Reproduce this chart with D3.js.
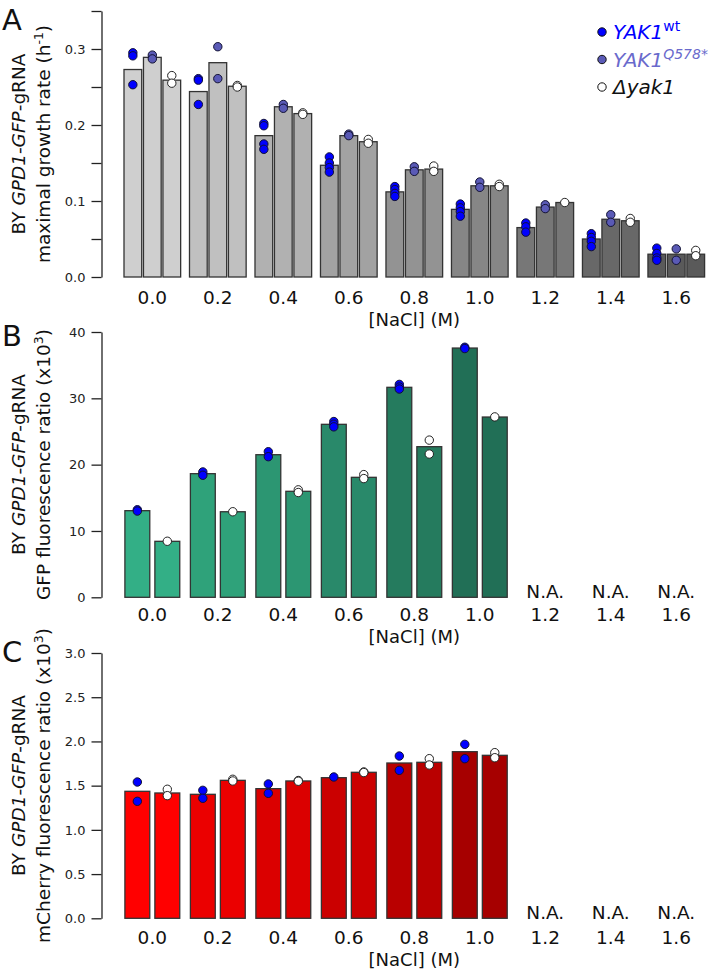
<!DOCTYPE html>
<html><head><meta charset="utf-8">
<script src="https://cdn.jsdelivr.net/npm/d3@7/dist/d3.min.js"></script>
<style>
body{margin:0;background:#fff;}
svg{display:block;font-family:"DejaVu Sans",sans-serif;}
</style></head>
<body>
<svg id="chart" width="712" height="977"></svg>
<script>
// ---------- data ----------
const nacl = ["0.0","0.2","0.4","0.6","0.8","1.0","1.2","1.4","1.6"];
const naclMeasured = ["0.0","0.2","0.4","0.6","0.8","1.0"];
const naclMissing = ["1.2","1.4","1.6"];
const strainsA = ["wt","q578","del"];
const strainsBC = ["wt","del"];

// Panel A: maximal growth rate (h^-1)
const growthWt  = [0.273,0.244,0.186,0.147,0.112,0.089,0.065,0.050,0.030];
const growthQ   = [0.289,0.282,0.224,0.186,0.141,0.120,0.092,0.076,0.030];
const growthDel = [0.259,0.251,0.215,0.178,0.142,0.120,0.098,0.074,0.030];
const growthWtPts  = [[0.295,0.291,0.253],[0.261,0.259,0.227],[0.202,0.199,0.175,0.168],[0.158,0.150,0.144,0.138],[0.119,0.115,0.110,0.106],[0.096,0.091,0.086,0.080],[0.071,0.066,0.059],[0.057,0.052,0.047,0.040],[0.038,0.031,0.025,0.022]];
const growthQPts   = [[0.292,0.287],[0.303,0.261],[0.227,0.222],[0.188,0.186],[0.145,0.139],[0.125,0.118],[0.095,0.090],[0.082,0.072],[0.037,0.022]];
const growthDelPts = [[0.265,0.255],[0.252,0.250],[0.216,0.214],[0.181,0.176],[0.146,0.139],[0.122,0.119],[0.098],[0.077,0.072],[0.035,0.028]];

// Panel B: GFP fluorescence ratio (x10^3)
const gfpWt  = [13.06,18.64,21.5,26.08,31.66,37.58];
const gfpDel = [8.44,12.9,15.98,18.09,22.71,27.18];
const gfpWtPts  = [[13.2,13.0],[18.9,18.4],[21.95,21.2],[26.5,26.1,25.7],[32.1,31.7,31.4],[37.7,37.5]];
const gfpDelPts = [[8.45],[12.9],[16.2,15.8],[18.5,17.9],[23.7,21.6],[27.2]];

// Panel C: mCherry fluorescence ratio (x10^3)
const mchWt  = [1.436,1.402,1.466,1.59,1.756,1.884];
const mchDel = [1.417,1.56,1.553,1.651,1.764,1.843];
const mchWtPts  = [[1.541,1.323],[1.447,1.357],[1.519,1.413],[1.598],[1.835,1.673],[1.967,1.805]];
const mchDelPts = [[1.459,1.387],[1.572,1.553],[1.558,1.550],[1.655,1.648],[1.805,1.734],[1.873,1.816]];

// tick values
const ticksA = [0,0.05,0.1,0.15,0.2,0.25,0.3,0.35];
const labelsA = [0,0.1,0.2,0.3];
const ticksB = [0,10,20,30,40];
const ticksC = [0,0.5,1.0,1.5,2.0,2.5,3.0];

// colours
const greyFill  = ["#cfcfcf","#c0c0c0","#b1b1b1","#a2a2a2","#939393","#868686","#777777","#686868","#5a5a5a"];
const greenFill = ["#33af86","#2fa27a","#2c9672","#29896a","#257b5e","#216f56"];
const redFill   = ["#ff0000","#eb0000","#db0000","#cb0000","#b90000","#a60000"];
const pointFill = {wt:"#0000ff", q578:"#5a5ab6", del:"#ffffff"};
const legendText = [
  {key:"wt",  main:"YAK1", sup:"wt", supItalic:false, color:"#0000ff"},
  {key:"q578",main:"YAK1", sup:"Q578*", supItalic:true, color:"#6a6acc"},
  {key:"del", main:"\u0394yak1", sup:"", supItalic:false, color:"#111111"}
];

// ---------- drawing ----------
const svg = d3.select("#chart");
const FONT = '"DejaVu Sans", sans-serif';

const xGroup = d3.scaleBand().domain(nacl).range([124, 704.6]).paddingInner(0.135).paddingOuter(0);
const xInA = d3.scaleBand().domain(strainsA).range([0, xGroup.bandwidth()]).paddingInner(0.09);
const xInBC = d3.scaleBand().domain(strainsBC).range([0, xGroup.bandwidth()]).paddingInner(0.17).paddingOuter(0.03);

function yAxis(g, y, tickVals, fmt){
  const ax = d3.axisLeft(y).tickValues(tickVals).tickSize(10).tickSizeOuter(0).tickPadding(6).tickFormat(fmt);
  g.call(ax);
  g.select(".domain").attr("stroke","#222").attr("stroke-width",1.3);
  g.selectAll(".tick line").attr("stroke","#222").attr("stroke-width",1.3);
  g.selectAll(".tick text").attr("font-family",FONT).attr("font-size",13).attr("fill","#222");
}

function yTitle(x1, x2, yc, line2parts){
  const t1 = svg.append("text").attr("transform",`translate(${x1},${yc}) rotate(-90)`)
    .attr("text-anchor","middle").attr("font-size",18.5).attr("fill","#111");
  t1.append("tspan").text("BY ");
  t1.append("tspan").attr("font-style","italic").text("GPD1-GFP");
  t1.append("tspan").text("-gRNA");
  const t2 = svg.append("text").attr("transform",`translate(${x2},${yc}) rotate(-90)`)
    .attr("text-anchor","middle").attr("font-size",18.5).attr("fill","#111");
  t2.append("tspan").text(line2parts[0]);
  t2.append("tspan").attr("font-size",12.5).attr("dy",-7).text(line2parts[1]);
  t2.append("tspan").attr("dy",7).text(line2parts[2]);
}

function xLabels(baseline, titleBaseline, naBaseline){
  svg.append("g").selectAll("text").data(nacl).join("text")
    .attr("x", d => xGroup(d) + xGroup.bandwidth()/2).attr("y", baseline)
    .attr("text-anchor","middle").attr("font-size",18.5).attr("fill","#111").text(d => d);
  const [r0, r1] = xGroup.range();
  svg.append("text").attr("x",(r0+r1)/2).attr("y",titleBaseline).attr("text-anchor","middle")
    .attr("font-size",18).attr("fill","#111").text("[NaCl] (M)");
  if (naBaseline){
    svg.append("g").selectAll("text").data(naclMissing).join("text")
      .attr("x", d => xGroup(d) + xGroup.bandwidth()/2).attr("y", naBaseline)
      .attr("text-anchor","middle").attr("font-size",18.5).attr("fill","#111").text("N.A.");
  }
}

function panelLetter(letter, y){
  svg.append("text").attr("x",2).attr("y",y).attr("font-size",29).attr("fill","#111").text(letter);
}

function drawBars(g, cats, series, xIn, y, fills){
  series.forEach(s => {
    g.append("g").selectAll("rect").data(cats).join("rect")
      .attr("x", (d,i) => xGroup(d) + xIn(s.key))
      .attr("width", xIn.bandwidth())
      .attr("y", (d,i) => y(s.values[i]))
      .attr("height", (d,i) => y(0) - y(s.values[i]))
      .attr("fill", (d,i) => fills[i])
      .attr("stroke","#333").attr("stroke-width",1.3);
  });
  series.forEach(s => {
    const pts = [];
    cats.forEach((c,i) => s.pts[i].forEach(v => pts.push({c, v})));
    g.append("g").selectAll("circle").data(pts).join("circle")
      .attr("cx", d => xGroup(d.c) + xIn(s.key) + xIn.bandwidth()/2)
      .attr("cy", d => y(d.v))
      .attr("r", 4.2)
      .attr("fill", pointFill[s.key])
      .attr("stroke", s.key === "del" ? "#222" : "#111133").attr("stroke-width",1);
  });
}

// ----- Panel A -----
const yA = d3.scaleLinear().domain([0,0.35]).range([277,11]);
const gA = svg.append("g");
drawBars(gA, nacl, [
  {key:"wt", values:growthWt, pts:growthWtPts},
  {key:"q578", values:growthQ, pts:growthQPts},
  {key:"del", values:growthDel, pts:growthDelPts}
], xInA, yA, greyFill);
yAxis(svg.append("g").attr("transform","translate(101.5,0)"), yA, ticksA,
  d => labelsA.some(v => Math.abs(v-d)<1e-9) ? d3.format(".1f")(d) : "");
yTitle(25, 50, 144, ["maximal growth rate (h","-1",")"]);
xLabels(304, 326, null);
panelLetter("A", 30);

// legend
const leg = svg.append("g");
legendText.forEach((L,i) => {
  const cy = 32 + i*27.5;
  leg.append("circle").attr("cx",602).attr("cy",cy).attr("r",4.2)
    .attr("fill",pointFill[L.key]).attr("stroke","#111").attr("stroke-width",1);
  const t = leg.append("text").attr("x",613).attr("y",cy+7).attr("font-size",20).attr("fill",L.color);
  t.append("tspan").attr("font-style","italic").text(L.main);
  if (L.sup) t.append("tspan").attr("font-size",14).attr("dy",-8)
      .attr("font-style", L.supItalic ? "italic" : "normal").text(L.sup);
});

// ----- Panel B -----
const yB = d3.scaleLinear().domain([0,40]).range([597.3,332]);
const gB = svg.append("g");
drawBars(gB, naclMeasured, [
  {key:"wt", values:gfpWt, pts:gfpWtPts},
  {key:"del", values:gfpDel, pts:gfpDelPts}
], xInBC, yB, greenFill);
yAxis(svg.append("g").attr("transform","translate(101.5,0)"), yB, ticksB, d3.format("d"));
yTitle(25, 50, 464.5, ["GFP fluorescence ratio (x10","3",")"]);
xLabels(621, 643, 598);
panelLetter("B", 346);

// ----- Panel C -----
const yC = d3.scaleLinear().domain([0,3]).range([918.3,653]);
const gC = svg.append("g");
drawBars(gC, naclMeasured, [
  {key:"wt", values:mchWt, pts:mchWtPts},
  {key:"del", values:mchDel, pts:mchDelPts}
], xInBC, yC, redFill);
yAxis(svg.append("g").attr("transform","translate(101.5,0)"), yC, ticksC, d3.format(".1f"));
yTitle(25, 50, 785.5, ["mCherry fluorescence ratio (x10","3",")"]);
xLabels(944, 966, 919);
panelLetter("C", 662);
</script>
</body></html>
